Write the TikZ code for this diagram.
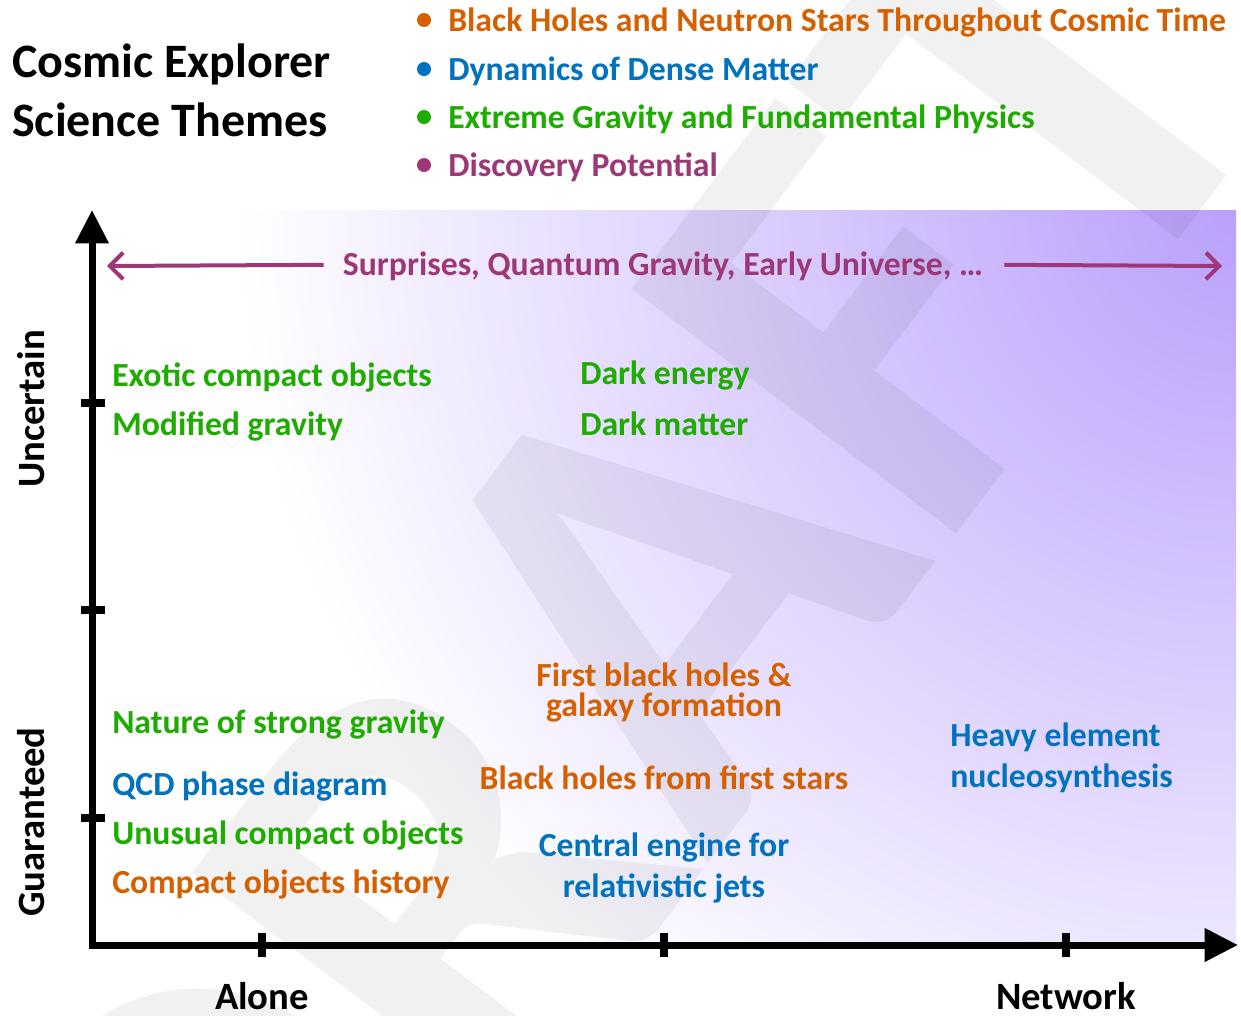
\documentclass[tikz,border=0pt]{standalone}
\usepackage{fontspec}
\setmainfont{Carlito}
\usetikzlibrary{arrows.meta}
\definecolor{ceorange}{RGB}{214,96,0}
\definecolor{ceblue}{RGB}{0,114,190}
\definecolor{cegreen}{RGB}{30,172,0}
\definecolor{ceplum}{RGB}{157,56,120}
\definecolor{celilac}{RGB}{186,160,252}
\tikzset{
  headline/.style={anchor=base west, inner sep=0pt, font=\bfseries\fontsize{36}{42}\selectfont},
  themeline/.style={anchor=base west, inner sep=0pt, font=\bfseries\fontsize{25.3}{30}\selectfont},
  themedot/.style={circle, inner sep=0pt, minimum size=10.5pt},
  topic/.style={inner sep=0pt, font=\bfseries\fontsize{25.3}{30}\selectfont},
  axislabel/.style={anchor=base, inner sep=0pt, font=\bfseries\fontsize{29}{34}\selectfont},
  axisline/.style={line width=5.25pt, line cap=rect},
  ticks/.style={line width=6pt},
  reach/.style={ceplum, line width=3pt, -{Straight Barb[length=10pt,width=20pt,line width=3pt]}},
}

\begin{document}
\begin{tikzpicture}[x=0.75pt,y=0.75pt,yscale=-1,xscale=1]
\fill[white] (0,0) rectangle (1241,1015);
\useasboundingbox (0,0) rectangle (1241,1015);

% background of the chart, brightest in the top right corner
\begin{scope}
  \clip (92,210) rectangle (1236,942);
  \shade[inner color=celilac, outer color=white] (1236,210) circle (1000);
\end{scope}

% watermark
\node[rotate=53, text=black, text opacity=0.055, inner sep=0pt, font=\bfseries\fontsize{470}{470}\selectfont] (draftmark) at (615,650) {DRAFT};

% title and themes
\node[headline] (title1) at (12,77) {Cosmic Explorer};
\node[headline] (title2) at (12,136) {Science Themes};

\node[themedot, fill=ceorange] (dot1) at (424,20) {};
\node[themedot, fill=ceblue] (dot2) at (424,69) {};
\node[themedot, fill=cegreen] (dot3) at (424,117) {};
\node[themedot, fill=ceplum] (dot4) at (424,165) {};
\node[themeline, text=ceorange] (theme1) at (448,31) {Black Holes and Neutron Stars Throughout Cosmic Time};
\node[themeline, text=ceblue] (theme2) at (448,80) {Dynamics of Dense Matter};
\node[themeline, text=cegreen] (theme3) at (448,128) {Extreme Gravity and Fundamental Physics};
\node[themeline, text=ceplum] (theme4) at (448,176) {Discovery Potential};

% axes
\coordinate (origin) at (92,945);
\coordinate (ytip) at (92,210);
\coordinate (xtip) at (1238,945);
\draw[axisline, -{Triangle[length=25pt,width=24pt]}] (origin) -- (ytip);
\draw[axisline, -{Triangle[length=25pt,width=24pt]}] (origin) -- (xtip);
\foreach \ty in {403,610,818}
  \draw[ticks] (81,\ty) -- (105,\ty);
\foreach \tx in {262,664,1066}
  \draw[ticks] (\tx,933) -- (\tx,957);

\node[axislabel, rotate=90] (uncertain) at (44,409) {Uncertain};
\node[axislabel, rotate=90] (guaranteed) at (44,822) {Guaranteed};
\node[axislabel] (alone) at (262,1009) {Alone};
\node[axislabel] (network) at (1066,1009) {Network};

% discovery band
\node[topic, anchor=base, text=ceplum] (surprises) at (663,275) {Surprises, Quantum Gravity, Early Universe, \dots};
\coordinate (leftend) at (107,266);
\coordinate (rightend) at (1222,266);
\draw[reach] (surprises.west) ++(-19,-1) -- (leftend);
\draw[reach] (surprises.east) ++(21,-1) -- (rightend);

% uncertain topics
\node[topic, anchor=base west, text=cegreen] (exotic) at (112,386) {Exotic compact objects};
\node[topic, anchor=base west, text=cegreen] (modgrav) at (112,435) {Modified gravity};
\node[topic, anchor=base west, text=cegreen] (darkenergy) at (580,384) {Dark energy};
\node[topic, anchor=base west, text=cegreen] (darkmatter) at (580,435) {Dark matter};

% guaranteed topics
\node[topic, anchor=base, text=ceorange] (firstbh) at (664,686) {First black holes \&};
\node[topic, anchor=base, text=ceorange] (galaxy) at (664,716) {galaxy formation};
\node[topic, anchor=base west, text=cegreen] (strong) at (112,733) {Nature of strong gravity};
\node[topic, anchor=base west, text=ceblue] (qcd) at (112,795) {QCD phase diagram};
\node[topic, anchor=base west, text=cegreen] (unusual) at (112,844) {Unusual compact objects};
\node[topic, anchor=base west, text=ceorange] (history) at (112,893) {Compact objects history};
\node[topic, anchor=base, text=ceorange] (firststars) at (664,789) {Black holes from first stars};
\node[topic, anchor=base, text=ceblue] (engine) at (664,856) {Central engine for};
\node[topic, anchor=base, text=ceblue] (jets) at (664,897) {relativistic jets};
\node[topic, anchor=base west, text=ceblue] (heavy) at (950,746) {Heavy element};
\node[topic, anchor=base west, text=ceblue] (nucleo) at (950,787) {nucleosynthesis};

\end{tikzpicture}
\end{document}
